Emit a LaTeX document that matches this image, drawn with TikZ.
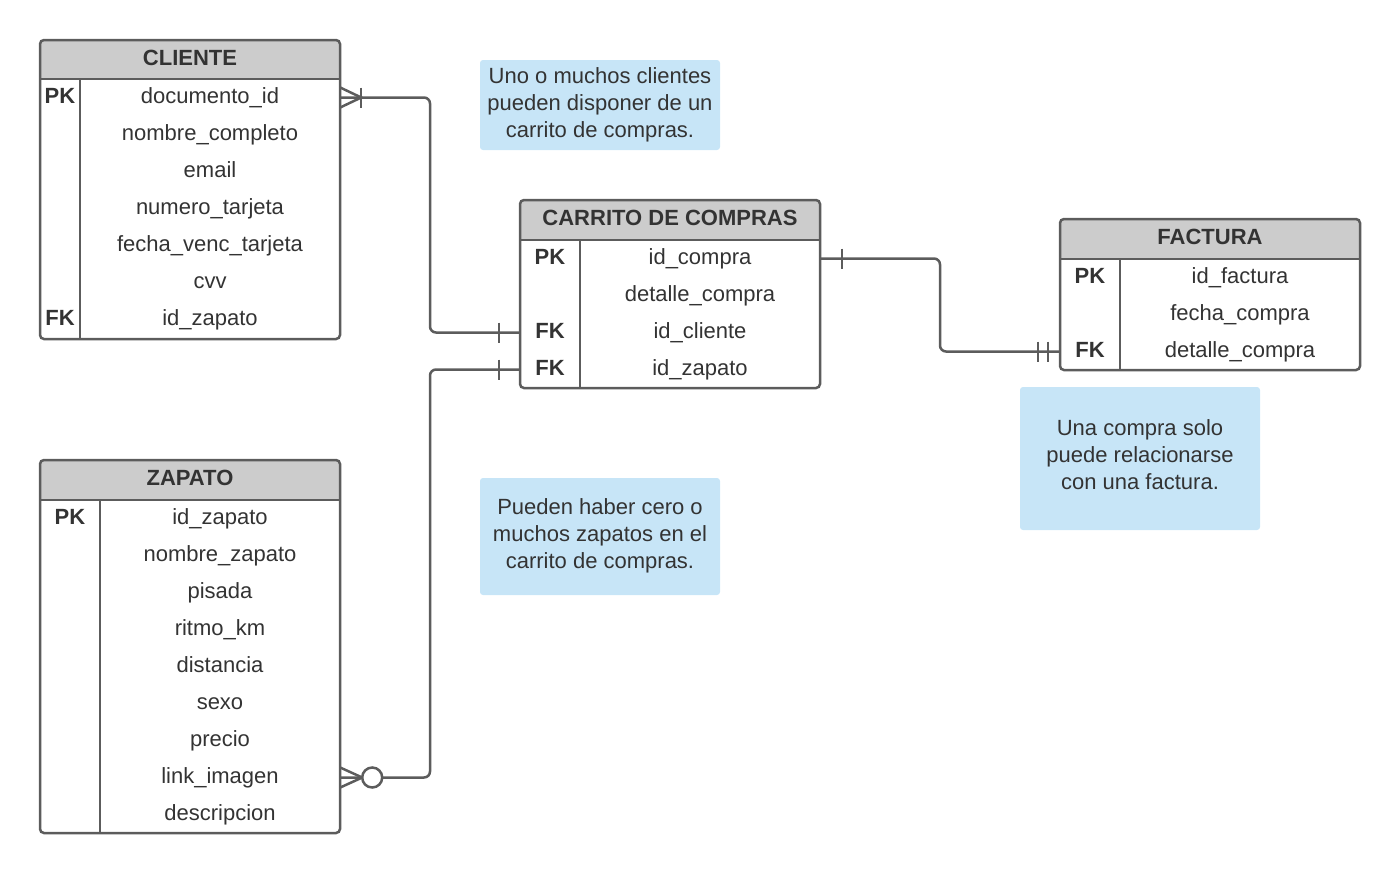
\documentclass[tikz,border=0pt]{standalone}
\usepackage{fontspec}
\setmainfont{Liberation Sans}
\usetikzlibrary{calc}
\definecolor{edge}{HTML}{5C5C5C}
\definecolor{txt}{HTML}{333333}
\definecolor{hdr}{HTML}{CCCCCC}
\definecolor{notebg}{HTML}{C7E5F7}
\begin{document}
\begin{tikzpicture}[x=1pt,y=-1pt,
  frame/.style={draw=edge, line width=2.5pt, rounded corners=4pt, inner sep=0pt, outer sep=0pt},
  sep/.style={draw=edge, line width=2.5pt},
  title/.style={font=\fontsize{22}{26}\selectfont\bfseries, text=txt, inner sep=0pt},
  fld/.style={font=\fontsize{22}{26}\selectfont, text=txt, inner sep=0pt, text height=11.75pt, text depth=0pt, minimum height=37pt},
  key/.style={font=\fontsize{22}{26}\selectfont\bfseries, text=txt, inner sep=0pt, text height=11.75pt, text depth=0pt, minimum height=37pt},
  conn/.style={draw=edge, line width=2.5pt},
  note/.style={fill=notebg, rounded corners=3pt, align=center, font=\fontsize{22}{27}\selectfont, text=txt, inner sep=0pt, minimum width=240pt},
  notetext/.style={align=center, font=\fontsize{22}{27}\selectfont, text=txt, inner sep=0pt}
]
\useasboundingbox (0,0) rectangle (1400,873);

% ---------------- CLIENTE ----------------
\fill[hdr] (40,79) [rounded corners=4pt] -- (40,40) -- (340,40) [sharp corners] -- (340,79) -- cycle;
\node[frame, minimum width=300pt, minimum height=299pt] (cli) at (190,189.5) {};
\draw[sep] (40,79) -- (340,79);
\draw[sep] (80,79) -- (80,339);
\node[title] (cli-t) at (190,57.5) {CLIENTE};
\foreach \i/\t in {1/documento\_id,2/nombre\_completo,3/email,4/numero\_tarjeta,5/fecha\_venc\_tarjeta,6/cvv,7/id\_zapato}
  \node[fld, minimum width=260pt] (cli-\i) at (210,{79+37*\i-18.5}) {\t};
\node[key, minimum width=40pt] (cli-k1) at (60,97.5) {PK};
\node[key, minimum width=40pt] (cli-k7) at (60,319.5) {FK};

% ---------------- ZAPATO ----------------
\fill[hdr] (40,500) [rounded corners=4pt] -- (40,460) -- (340,460) [sharp corners] -- (340,500) -- cycle;
\node[frame, minimum width=300pt, minimum height=373pt] (zap) at (190,646.5) {};
\draw[sep] (40,500) -- (340,500);
\draw[sep] (100,500) -- (100,833);
\node[title] (zap-t) at (190,477.5) {ZAPATO};
\foreach \i/\t in {1/id\_zapato,2/nombre\_zapato,3/pisada,4/ritmo\_km,5/distancia,6/sexo,7/precio,8/link\_imagen,9/descripcion}
  \node[fld, minimum width=240pt] (zap-\i) at (220,{500+37*\i-18.5}) {\t};
\node[key, minimum width=60pt] (zap-k1) at (70,518.5) {PK};

% ---------------- CARRITO DE COMPRAS ----------------
\fill[hdr] (520,240) [rounded corners=4pt] -- (520,200) -- (820,200) [sharp corners] -- (820,240) -- cycle;
\node[frame, minimum width=300pt, minimum height=188pt] (car) at (670,294) {};
\draw[sep] (520,240) -- (820,240);
\draw[sep] (580,240) -- (580,388);
\node[title] (car-t) at (670,217.5) {CARRITO DE COMPRAS};
\foreach \i/\t in {1/id\_compra,2/detalle\_compra,3/id\_cliente,4/id\_zapato}
  \node[fld, minimum width=240pt] (car-\i) at (700,{240+37*\i-18.5}) {\t};
\node[key, minimum width=60pt] (car-k1) at (550,258.5) {PK};
\node[key, minimum width=60pt] (car-k3) at (550,332.5) {FK};
\node[key, minimum width=60pt] (car-k4) at (550,369.5) {FK};

% ---------------- FACTURA ----------------
\fill[hdr] (1060,259) [rounded corners=4pt] -- (1060,219) -- (1360,219) [sharp corners] -- (1360,259) -- cycle;
\node[frame, minimum width=300pt, minimum height=151pt] (fac) at (1210,294.5) {};
\draw[sep] (1060,259) -- (1360,259);
\draw[sep] (1120,259) -- (1120,370);
\node[title] (fac-t) at (1210,236.5) {FACTURA};
\foreach \i/\t in {1/id\_factura,2/fecha\_compra,3/detalle\_compra}
  \node[fld, minimum width=240pt] (fac-\i) at (1240,{259+37*\i-18.5}) {\t};
\node[key, minimum width=60pt] (fac-k1) at (1090,277.5) {PK};
\node[key, minimum width=60pt] (fac-k3) at (1090,351.5) {FK};

% ---------------- Notes ----------------
\node[note, minimum height=90pt] (n1) at (600,105) {Uno o muchos clientes\\pueden disponer de un\\carrito de compras.};
\node[note, minimum height=117pt] (n2) at (600,536.5) {};
\node[notetext] (n2-t) at (600,535.5) {Pueden haber cero o\\muchos zapatos en el\\carrito de compras.};
\node[note, minimum height=143pt] (n3) at (1140,458.5) {};
\node[notetext] (n3-t) at (1140,454.5) {Una compra solo\\puede relacionarse\\con una factura.};

% ---------------- Connectors ----------------
\coordinate (j1) at (430,0);
\coordinate (j2) at (940,0);

% CLIENTE (many) -- CARRITO (one)
\draw[conn, rounded corners=6pt] (cli-1.east) -- (cli-1.east -| j1) -- (car-3 -| j1) -- (car-3 -| car.west);
\draw[conn] ($(cli-1.east)+(0,-10)$) -- ($(cli-1.east)+(21,0)$) -- ($(cli-1.east)+(0,10)$);
\draw[conn] ($(cli-1.east)+(21,-10)$) -- ++(0,20);
\draw[conn] ($(car-3 -| car.west)+(-21,-10)$) -- ++(0,20);

% ZAPATO (zero or many) -- CARRITO (one)
\draw[conn, rounded corners=6pt] (zap-8.east) -- (zap-8.east -| j1) -- (car-4 -| j1) -- (car-4 -| car.west);
\draw[conn] ($(zap-8.east)+(0,-10)$) -- ($(zap-8.east)+(22,0)$) -- ($(zap-8.east)+(0,10)$);
\node[circle, draw=edge, fill=white, line width=2.5pt, minimum size=20pt, inner sep=0pt] (zc) at ($(zap-8.east)+(32,0)$) {};
\draw[conn] ($(car-4 -| car.west)+(-21,-10)$) -- ++(0,20);

% CARRITO (one) -- FACTURA (one and only one)
\draw[conn, rounded corners=6pt] (car-1.east) -- (car-1.east -| j2) -- (fac-3 -| j2) -- (fac-3 -| fac.west);
\draw[conn] ($(car-1.east)+(22,-10)$) -- ++(0,20);
\draw[conn] ($(fac-3 -| fac.west)+(-22,-10)$) -- ++(0,20);
\draw[conn] ($(fac-3 -| fac.west)+(-12,-10)$) -- ++(0,20);
\end{tikzpicture}
\end{document}
